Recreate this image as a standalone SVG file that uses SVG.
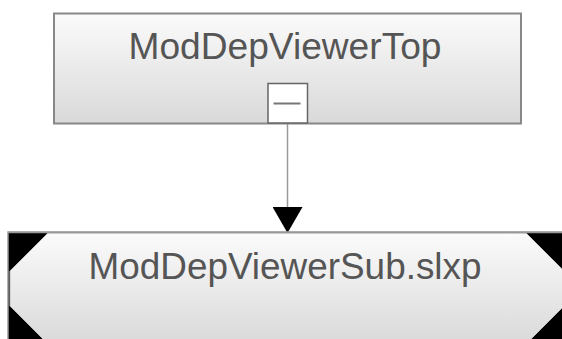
<svg xmlns="http://www.w3.org/2000/svg" width="562" height="339" viewBox="0 0 562 339">
  <defs>
    <linearGradient id="g" x1="0" y1="0" x2="0" y2="1">
      <stop offset="0" stop-color="#fbfbfb"/>
      <stop offset="1" stop-color="#d9d9d9"/>
    </linearGradient>
    <marker id="arr" markerUnits="userSpaceOnUse" markerWidth="27" markerHeight="30" refX="26" refY="15" orient="auto" viewBox="0 0 27 30">
      <path d="M0,0 L26,15 L0,30 Z" fill="#000"/>
    </marker>
    <style>
      .lbl { font-family: "Liberation Sans", Arial, sans-serif; font-size: 36px; fill: #555; text-anchor: middle; }
      .edge { stroke: #999; stroke-width: 1.5; fill: none; }
    </style>
  </defs>
  <rect width="562" height="339" fill="#fff"/>
  <g id="connectors">
    <line class="edge" x1="287.5" y1="123" x2="287.5" y2="233" marker-end="url(#arr)"/>
  </g>
  <g id="node-top">
    <rect x="54" y="13.5" width="467" height="110" fill="url(#g)" stroke="#888" stroke-width="2"/>
    <text class="lbl" x="285" y="59" textLength="313" lengthAdjust="spacingAndGlyphs">ModDepViewerTop</text>
    <rect x="268" y="83.5" width="39.5" height="39.5" fill="#fff" stroke="#666" stroke-width="1.5"/>
    <line x1="273.5" y1="103.5" x2="300.5" y2="103.5" stroke="#777" stroke-width="2"/>
  </g>
  <g id="node-sub">
    <rect x="8" y="232" width="560" height="115" fill="#000" stroke="#999" stroke-width="1.5"/>
    <polygon points="48,233 526,233 564,271 564,306 526,344 48,344 10,306 10,271" fill="url(#g)" stroke="#bbb" stroke-width="1"/>
    <line x1="8" y1="232.5" x2="562" y2="232.5" stroke="#999" stroke-width="1.5"/>
    <text class="lbl" x="285" y="279" textLength="393" lengthAdjust="spacingAndGlyphs">ModDepViewerSub.slxp</text>
  </g>
</svg>
